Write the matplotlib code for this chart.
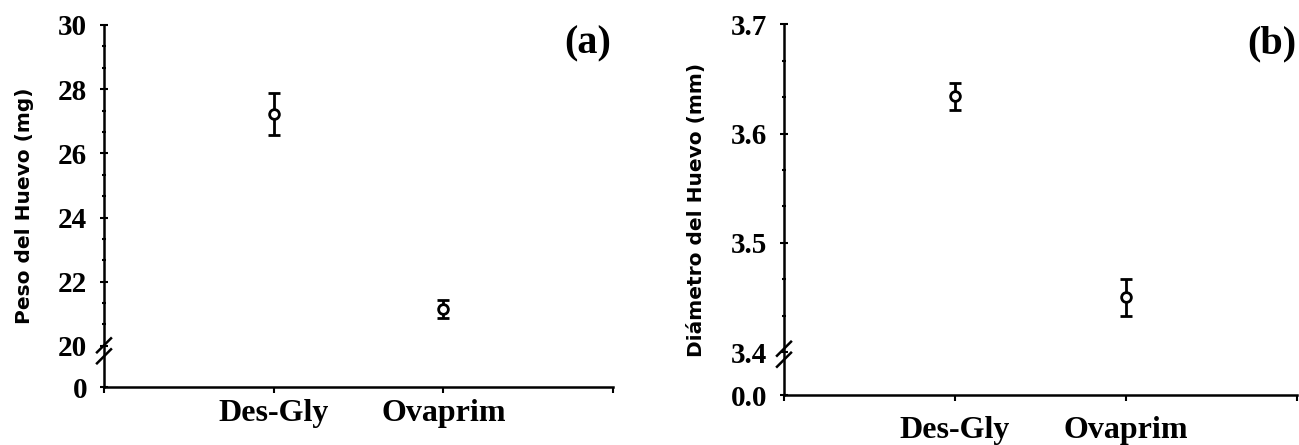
"""Egg weight and egg diameter by hormone treatment, two panels with broken y axes."""

# ---------------------------------------------------------------------------
# Section 1: Imports
# ---------------------------------------------------------------------------
import matplotlib

matplotlib.use("Agg")

import matplotlib.pyplot as plt  # noqa: E402
import numpy as np  # noqa: E402


# ---------------------------------------------------------------------------
# Section 2: Data
# ---------------------------------------------------------------------------
TREATMENTS = ["Des-Gly", "Ovaprim"]
TREATMENT_POS = [1, 2]

WEIGHT_MEAN = [27.22, 21.15]
WEIGHT_ERR = [0.65, 0.27]
WEIGHT_MAJOR = [0, 20, 22, 24, 26, 28, 30]
WEIGHT_LABELS = ["0", "20", "22", "24", "26", "28", "30"]

DIAM_MEAN = [3.634, 3.450]
DIAM_ERR = [0.012, 0.017]
DIAM_MAJOR = [0.0, 3.4, 3.5, 3.6, 3.7]
DIAM_LABELS = ["0.0", "3.4", "3.5", "3.6", "3.7"]

SERIF = "Liberation Serif"
SANS = "DejaVu Sans"


# ---------------------------------------------------------------------------
# Section 3: Helpers
# ---------------------------------------------------------------------------
def broken_scale(brk, gap):
    """Squeeze 0..brk into a short stretch of height `gap` below the break."""
    def forward(y):
        y = np.asarray(y, dtype=float)
        return np.where(y <= brk, y * gap / brk, gap + (y - brk))

    def inverse(u):
        u = np.asarray(u, dtype=float)
        return np.where(u <= gap, u * brk / gap, brk + (u - gap))

    return forward, inverse


def draw_break(ax, y_frac, w_px, h_px):
    dx = 7 / w_px
    dy = 7 / h_px
    sep = 11 / h_px
    for yc in (y_frac + sep / 2, y_frac - sep / 2):
        ax.plot([-dx, dx], [yc - dy, yc + dy], transform=ax.transAxes,
                color="black", lw=1.8, clip_on=False, zorder=5)


def style_panel(ax, major, labels, minor, ylabel, tag, label_x, xpad):
    for side in ("top", "right"):
        ax.spines[side].set_visible(False)
    for side in ("left", "bottom"):
        ax.spines[side].set_linewidth(1.8)

    ax.set_xlim(0, 3)
    ax.set_xticks([0] + TREATMENT_POS + [3])
    ax.set_xticklabels([""] + TREATMENTS + [""], fontfamily=SERIF,
                       fontweight="bold", fontsize=23)
    ax.tick_params(axis="x", direction="out", length=4, width=1.5, pad=xpad)

    ax.set_yticks(major)
    ax.set_yticklabels(labels, fontfamily=SERIF, fontweight="bold", fontsize=21)
    ax.set_yticks(minor, minor=True)
    ax.tick_params(axis="y", which="major", direction="inout", length=6,
                   width=1.5, pad=9)
    ax.tick_params(axis="y", which="minor", direction="inout", length=3,
                   width=1.5)

    ax.set_ylabel(ylabel, fontfamily=SANS, fontweight="bold", fontsize=14.5,
                  va="center")
    ax.yaxis.set_label_coords(label_x, 0.5)

    ax.text(0.95, 0.948, tag, transform=ax.transAxes, ha="center",
            va="center", fontfamily=SERIF, fontweight="bold", fontsize=29)


def plot_points(ax, means, errs):
    ax.errorbar(TREATMENT_POS, means, yerr=errs, fmt="o", color="black",
                ecolor="black", elinewidth=2, capsize=4.2, capthick=2,
                markersize=7, markerfacecolor="white", markeredgewidth=2,
                zorder=4, clip_on=False)


# ---------------------------------------------------------------------------
# Section 4: Main
# ---------------------------------------------------------------------------
def main():
    fig = plt.figure(figsize=(12.99, 4.45), dpi=100)

    # panel (a): weight
    ax_a = fig.add_axes([104 / 1299, 1 - 387 / 445, 509 / 1299, 362 / 445])
    ax_a.set_yscale("function", functions=broken_scale(20, 41 / 32))
    ax_a.set_ylim(0, 30)
    plot_points(ax_a, WEIGHT_MEAN, WEIGHT_ERR)
    weight_minor = [20 + k * 2 / 3 for k in range(1, 15) if k % 3]
    style_panel(ax_a, WEIGHT_MAJOR, WEIGHT_LABELS, weight_minor,
                "Peso del Huevo (mg)", "(a)", -0.157, 5)
    draw_break(ax_a, 0.10, 509, 362)

    # panel (b): diameter
    ax_b = fig.add_axes([784 / 1299, 1 - 395 / 445, 513 / 1299, 370.7 / 445])
    ax_b.set_yscale("function", functions=broken_scale(3.4, 43 / 1093))
    ax_b.set_ylim(0, 3.7)
    plot_points(ax_b, DIAM_MEAN, DIAM_ERR)
    diam_minor = [3.4 + k * 0.1 / 3 for k in range(1, 9) if k % 3]
    style_panel(ax_b, DIAM_MAJOR, DIAM_LABELS, diam_minor,
                "Diámetro del Huevo (mm)", "(b)", -0.17, 11)
    draw_break(ax_b, 0.11, 513, 370.7)

    fig.savefig("out.png", dpi=100)
    plt.close(fig)


if __name__ == "__main__":
    main()
